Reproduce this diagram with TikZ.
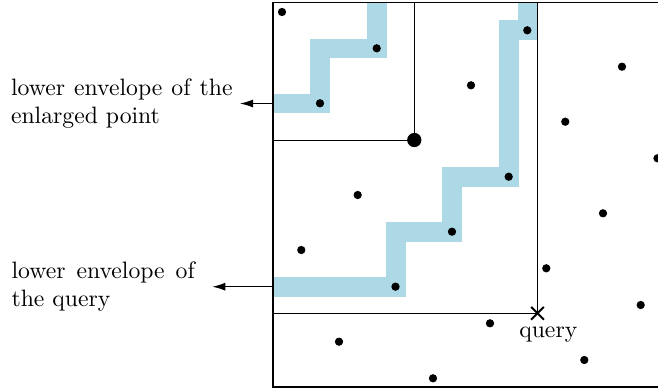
\documentclass[tikz,border=0pt]{standalone}
\usetikzlibrary{arrows.meta,shapes.misc}
\definecolor{bandblue}{RGB}{173,216,230}
\begin{document}
\begin{tikzpicture}[x=0.4219pt,y=-0.4219pt,
  band/.style={draw=bandblue,line width=8.3pt,line join=miter,line cap=butt},
  dot/.style={circle,fill=black,inner sep=0pt,minimum size=3.5pt},
  bigdot/.style={circle,fill=black,inner sep=0pt,minimum size=6pt},
  guide/.style={line width=0.4pt},
  frame/.style={line width=0.8pt},
  lbl/.style={align=justify,inner ysep=0pt,inner xsep=0pt},
  pointer/.style={-{Latex[length=5.5pt,width=3.4pt]},line width=0.5pt},
  qmark/.style={draw,cross out,line width=0.8pt,minimum size=4.6pt,inner sep=0pt}
]
\useasboundingbox (0,0) rectangle (658,390);
\clip (0,0) rectangle (658,390);

% frame corners
\coordinate (ftop) at (273,2.5);
\coordinate (fbot) at (273,387.3);

% envelopes
\draw[band] (376.7,2.5) -- (376.7,48.5) -- (320,48.5) -- (320,103.5) -- (273,103.5);
\draw[band] (527.5,2.5) -- (527.5,30.2) -- (509,30.2) -- (509,176.7) -- (452,176.7)
  -- (452,231.7) -- (396,231.7) -- (396,286.7) -- (273,286.7);

% frame
\draw[frame] (700,2.5) -- (ftop) -- (fbot) -- (700,387.3);

% enlarged point and query
\node[bigdot] (big) at (414.3,140) {};
\draw[guide] (big.center) -- (big.center |- ftop);
\draw[guide] (big.center) -- (ftop |- big.center);

\node[qmark] (q) at (537.5,313.3) {};
\draw[guide] (q.center) -- (q.center |- ftop);
\draw[guide] (q.center) -- (ftop |- q.center);
\node[inner sep=0pt] (ql) at (548.3,335) {query};

% points
\node[dot] (p1) at (282,12) {};
\node[dot] (p2) at (376.7,48.3) {};
\node[dot] (p3) at (320,103.3) {};
\node[dot] (p4) at (471,85.3) {};
\node[dot] (p6) at (357.7,195) {};
\node[dot] (p7) at (301.3,250) {};
\node[dot] (p8) at (395.5,286.7) {};
\node[dot] (p9) at (452,231.7) {};
\node[dot] (p10) at (508.7,176.7) {};
\node[dot] (p11) at (527.3,30.3) {};
\node[dot] (p12) at (339,341.7) {};
\node[dot] (p13) at (433,378.3) {};
\node[dot] (p14) at (490,323.3) {};
\node[dot] (p15) at (622,66.7) {};
\node[dot] (p16) at (565.3,121.7) {};
\node[dot] (p17) at (657.5,158.3) {};
\node[dot] (p18) at (603,213.3) {};
\node[dot] (p19) at (546.3,268.3) {};
\node[dot] (p20) at (640.7,305) {};
\node[dot] (p21) at (584.3,360) {};

% labels
\coordinate (e1) at (273,103.5);
\coordinate (e2) at (273,286.7);
\node[lbl,text width=93.5pt,outer xsep=3.1pt,anchor=east] (lab1) at (240,103.5)
  {lower envelope of the enlarged point};
\node[lbl,text width=77.3pt,outer xsep=7.4pt,anchor=east] (lab2) at (212.3,286.7)
  {lower envelope of the query};
\draw[pointer] (e1) -- (lab1.east);
\draw[pointer] (e2) -- (lab2.east);
\end{tikzpicture}
\end{document}
